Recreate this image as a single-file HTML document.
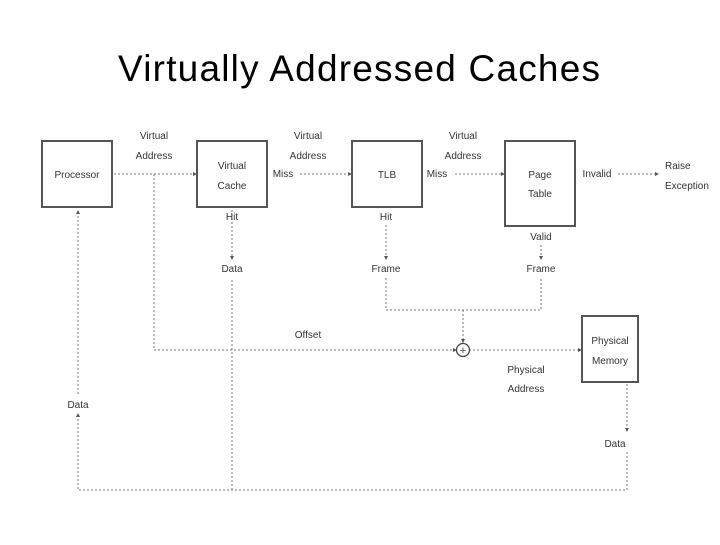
<!DOCTYPE html>
<html><head><meta charset="utf-8"><style>
body{margin:0;background:#fff;width:720px;height:540px;overflow:hidden}
</style></head><body>
<svg width="720" height="540" xmlns="http://www.w3.org/2000/svg">
<text x="118" y="81" textLength="482" lengthAdjust="spacing" font-family="Liberation Sans, sans-serif" font-size="37" fill="#000">Virtually Addressed Caches</text>
<g fill="none" stroke="#555" stroke-width="2">
<rect x="42" y="141" width="70" height="66"/>
<rect x="197" y="141" width="70" height="66"/>
<rect x="352" y="141" width="70" height="66"/>
<rect x="505" y="141" width="70" height="85"/>
<rect x="582" y="316" width="56" height="66"/>
</g>
<g fill="none" stroke="#777" stroke-width="1" stroke-dasharray="2,2">
<path d="M114 174H195"/>
<path d="M154 174V350H455"/>
<path d="M469 350H580"/>
<path d="M300 174H350"/>
<path d="M455 174H503"/>
<path d="M618 174H657"/>
<path d="M232 210V258"/>
<path d="M232 280V490"/>
<path d="M386 225V258"/>
<path d="M541 245V258"/>
<path d="M386 278V310H541V278"/>
<path d="M463 310V343"/>
<path d="M627 384V430"/>
<path d="M627 452V490H78V415"/>
<path d="M78 394V212"/>
</g>
<g fill="#555">
<path d="M197 174l-4 -2v4z"/>
<path d="M352 174l-4 -2v4z"/>
<path d="M505 174l-4 -2v4z"/>
<path d="M659 174l-4 -2v4z"/>
<path d="M582 350l-4 -2v4z"/>
<path d="M457 350l-4 -2v4z"/>
<path d="M232 260l-2 -4h4z"/>
<path d="M386 260l-2 -4h4z"/>
<path d="M541 260l-2 -4h4z"/>
<path d="M463 343l-2 -4h4z"/>
<path d="M627 432l-2 -4h4z"/>
<path d="M78 210l-2 4h4z"/>
<path d="M78 413l-2 4h4z"/>
</g>
<circle cx="463" cy="350" r="6.5" fill="#fff" stroke="#444" stroke-width="1.3"/>
<text x="463" y="354" text-anchor="middle" font-family="Liberation Sans, sans-serif" font-size="11" fill="#444">+</text>
<g font-family="Liberation Sans, sans-serif" font-size="10" fill="#333" text-anchor="middle">
<text x="77" y="178">Processor</text>
<text x="232" y="169">Virtual</text><text x="232" y="189">Cache</text>
<text x="387" y="178">TLB</text>
<text x="540" y="178">Page</text><text x="540" y="197">Table</text>
<text x="610" y="344">Physical</text><text x="610" y="364">Memory</text>
<text x="154" y="139">Virtual</text><text x="154" y="159">Address</text>
<text x="308" y="139">Virtual</text><text x="308" y="159">Address</text>
<text x="463" y="139">Virtual</text><text x="463" y="159">Address</text>
<text x="283" y="177">Miss</text>
<text x="437" y="177">Miss</text>
<text x="597" y="177">Invalid</text>
<text x="665" y="169" text-anchor="start">Raise</text>
<text x="665" y="189" text-anchor="start">Exception</text>
<text x="232" y="220">Hit</text>
<text x="386" y="220">Hit</text>
<text x="541" y="240">Valid</text>
<text x="232" y="272">Data</text>
<text x="386" y="272">Frame</text>
<text x="541" y="272">Frame</text>
<text x="308" y="338">Offset</text>
<text x="526" y="373">Physical</text><text x="526" y="392">Address</text>
<text x="78" y="408">Data</text>
<text x="615" y="447">Data</text>
</g>
</svg>
</body></html>
